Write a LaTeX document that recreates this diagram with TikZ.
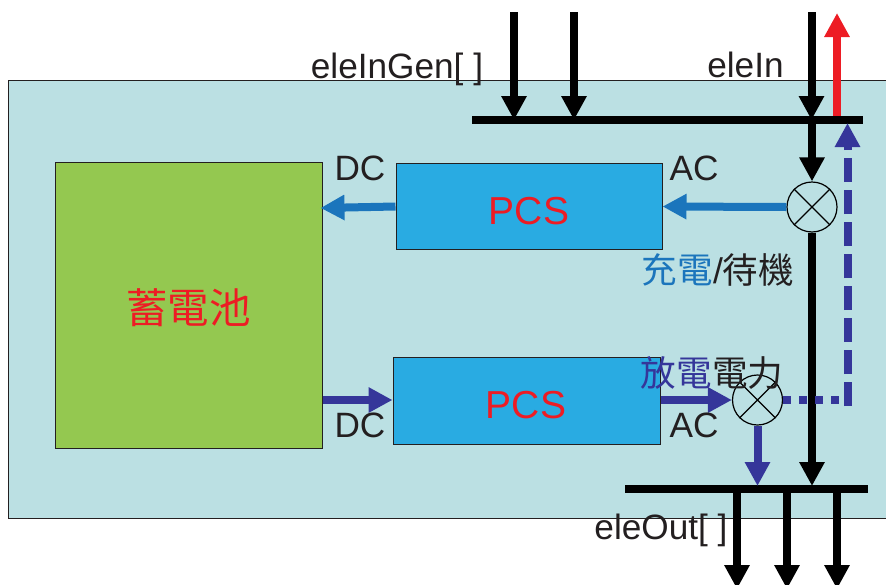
\documentclass[tikz,border=0pt]{standalone}
\usepackage{fontspec}
\setmainfont{Liberation Sans}
\newfontfamily\cjkfont{Noto Sans CJK TC}
\usetikzlibrary{arrows.meta}
\definecolor{panelteal}{HTML}{BBE0E3}
\definecolor{pcsblue}{HTML}{29ABE2}
\definecolor{battgreen}{HTML}{94C850}
\definecolor{chargeblue}{HTML}{1B75BC}
\definecolor{dischargeblue}{HTML}{35369A}
\definecolor{alertred}{HTML}{ED1C24}
\definecolor{inkgray}{HTML}{231F20}
\tikzset{
  box/.style={draw=inkgray,line width=1pt,inner sep=0pt,anchor=north west},
  busbar/.style={fill=black,inner sep=0pt,minimum height=8pt},
  mixer/.style={circle,draw=black,line width=1.2pt,inner sep=0pt,minimum size=50pt},
  flow/.style={line width=8pt,-{Triangle[width=24pt,length=24pt]}},
  lbl/.style={font=\fontsize{35.2}{37}\selectfont,text=inkgray,anchor=base,inner sep=0pt},
  pcslbl/.style={font=\fontsize{39}{41}\selectfont,text=alertred,anchor=base,inner sep=0pt},
  cjklbl/.style={font=\fontsize{35.6}{38}\selectfont\cjkfont,text=inkgray,inner sep=0pt},
}
\begin{document}
\begin{tikzpicture}[x=1pt,y=-1pt]
\useasboundingbox (0,0) rectangle (886,584);
\clip (0,0) rectangle (886,584);
\node[box,fill=panelteal,minimum width=890pt,minimum height=438pt] (panel) at (8,80) {};
\node[box,fill=battgreen,minimum width=267pt,minimum height=286pt] (batt) at (54.5,161.5) {};
\node[box,fill=pcsblue,minimum width=266pt,minimum height=86pt] (pcsA) at (395.5,163) {};
\node[box,fill=pcsblue,minimum width=267pt,minimum height=87pt] (pcsB) at (392.5,357) {};
\node[busbar,minimum width=391pt] (busA) at (667.5,120) {};
\node[busbar,minimum width=243pt] (busB) at (746.5,489) {};
\node[mixer] (mixA) at (812,207) {};
\node[mixer] (mixB) at (757.5,400) {};
\draw[line width=1.2pt] (mixA.north west) -- (mixA.south east) (mixA.north east) -- (mixA.south west);
\draw[line width=1.2pt] (mixB.north west) -- (mixB.south east) (mixB.north east) -- (mixB.south west);
\coordinate (inA) at (514,12);
\coordinate (inB) at (574,12);
\coordinate (inC) at (811.5,12);
\coordinate (redTop) at (837,13);
\coordinate (outA) at (737,589);
\coordinate (outB) at (787,589);
\coordinate (outC) at (837,589);
\coordinate (dashCorner) at (847.5,400);
\coordinate (dashTip) at (847.5,123);
% black feeds
\draw[flow] (inA) -- (inA |- busA.center);
\draw[flow] (inB) -- (inB |- busA.center);
\draw[flow] (inC) -- (inC |- busA.center);
\draw[flow] (mixA |- busA.south) -- (mixA.north);
\draw[flow] (mixA.south) -- (mixA |- 0,486);
\draw[flow] (outA |- busB.south) -- (outA);
\draw[flow] (outB |- busB.south) -- (outB);
\draw[flow] (outC |- busB.south) -- (outC);
% red
\draw[flow,alertred] (redTop |- busA.north) -- (redTop);
% charge
\draw[flow,chargeblue] (mixA.west) -- (pcsA.east);
\draw[flow,chargeblue] (pcsA.west) -- (320.5,208);
% discharge
\draw[flow,dischargeblue] (batt.east |- 0,400) -- (pcsB.west |- 0,400);
\draw[flow,dischargeblue] (pcsB.east |- 0,400) -- (mixB.west);
\draw[flow,dischargeblue] (mixB.south) -- (mixB |- 0,486);
\draw[line width=8pt,dischargeblue,dash pattern=on 8pt off 8pt] (mixB.east) -- (dashCorner);
\draw[line width=8pt,dischargeblue,dash pattern=on 24pt off 8pt] (847.5,406) -- (847.5,147);
\draw[dischargeblue,-{Triangle[width=24pt,length=24pt]},line width=8pt] (847.5,146) -- (dashTip);
% labels
\node[lbl] (tGen) at (397,78) {eleInGen[ ]};
\node[lbl] (tIn) at (745.5,77) {eleIn};
\node[lbl] (tOut) at (661,539) {eleOut[ ]};
\node[lbl] (tDCa) at (360,180) {DC};
\node[lbl] (tACa) at (694,180) {AC};
\node[lbl] (tDCb) at (360,437) {DC};
\node[lbl] (tACb) at (694,437) {AC};
\node[pcslbl] (tPa) at (529,224) {PCS};
\node[pcslbl] (tPb) at (526,418) {PCS};
\node[cjklbl,font=\fontsize{41.5}{44}\selectfont\cjkfont,text=alertred] (tBatt) at (188.5,308) {蓄電池};
\node[cjklbl] (tChg) at (718,270) {\textcolor{chargeblue}{充電}{\fontspec{Liberation Sans}/}待機};
\node[cjklbl] (tDis) at (712,373) {\textcolor{dischargeblue}{放電}電力};
\end{tikzpicture}
\end{document}
